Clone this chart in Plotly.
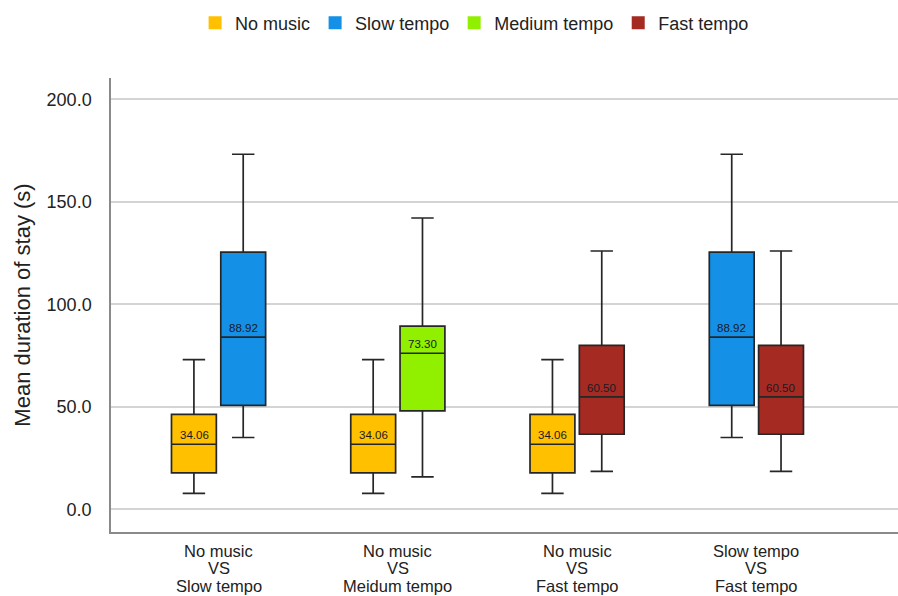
import plotly.graph_objects as go

# ---- data ----
group_keys = ["G1", "G2", "G3", "G4"]
group_label_lines = [
    ["No music", "VS", "Slow tempo"],
    ["No music", "VS", "Meidum tempo"],
    ["No music", "VS", "Fast tempo"],
    ["Slow tempo", "VS", "Fast tempo"],
]

series_names = ["No music", "Slow tempo", "Medium tempo", "Fast tempo"]
series_colors = ["#FFC000", "#1490E6", "#90F000", "#A52A22"]

# stats per condition: lower whisker, Q1, median, Q3, upper whisker, mean label
stats = {
    "No music":     dict(lo=7.7,  q1=17.7, med=31.7, q3=46.3,  hi=73.0,  mean="34.06"),
    "Slow tempo":   dict(lo=35.0, q1=50.7, med=84.0, q3=125.4, hi=173.2, mean="88.92"),
    "Medium tempo": dict(lo=15.8, q1=48.0, med=76.1, q3=89.3,  hi=142.1, mean="73.30"),
    "Fast tempo":   dict(lo=18.5, q1=36.6, med=54.8, q3=80.0,  hi=126.0, mean="60.50"),
}

# which condition sits in which group and slot (L = left, R = right)
placements = [
    ("No music", "G1", "L"), ("Slow tempo", "G1", "R"),
    ("No music", "G2", "L"), ("Medium tempo", "G2", "R"),
    ("No music", "G3", "L"), ("Fast tempo", "G3", "R"),
    ("Slow tempo", "G4", "L"), ("Fast tempo", "G4", "R"),
]

y_ticks = [0, 50, 100, 150, 200]

FONT = "Liberation Sans, Arial, sans-serif"
TEXT = "#222222"
color_of = dict(zip(series_names, series_colors))

fig = go.Figure()

# one box trace per (condition, slot)
traces = {}
for name, g, slot in placements:
    traces.setdefault((name, slot), []).append(g)

for (name, slot), gs in traces.items():
    s = stats[name]
    n = len(gs)
    fig.add_trace(go.Box(
        x=gs,
        q1=[s["q1"]] * n, median=[s["med"]] * n, q3=[s["q3"]] * n,
        lowerfence=[s["lo"]] * n, upperfence=[s["hi"]] * n,
        boxpoints=False,
        offsetgroup=slot,
        fillcolor=color_of[name],
        line=dict(color="#262626", width=1.7),
        whiskerwidth=0.5,
        showlegend=False,
        hoverinfo="skip",
    ))

# legend entries as square markers
for name in series_names:
    fig.add_trace(go.Scatter(
        x=[None], y=[None], mode="markers", name=name,
        marker=dict(symbol="square", size=13, color=color_of[name]),
    ))

annotations = []
# mean labels above the median lines
for name, g, slot in placements:
    s = stats[name]
    annotations.append(dict(
        x=g, y=s["med"], xref="x", yref="y", text=s["mean"], showarrow=False,
        xshift=-24.5 if slot == "L" else 24.5, yshift=9,
        font=dict(family=FONT, size=11.5, color="#1a1a26"),
    ))

# category labels (three tightly spaced lines under each group)
line_offsets = [-18.5, -36, -53.5]
for g, lines in zip(group_keys, group_label_lines):
    for txt, off in zip(lines, line_offsets):
        annotations.append(dict(
            x=g, y=0, xref="x", yref="paper", text=txt, showarrow=False,
            yanchor="middle", yshift=off,
            font=dict(family=FONT, size=16.5, color=TEXT),
        ))

fig.update_layout(
    width=898, height=596,
    margin=dict(l=111, r=0, t=78, b=64),
    paper_bgcolor="white", plot_bgcolor="white",
    font=dict(family=FONT, color=TEXT),
    boxmode="group", boxgap=0.45, boxgroupgap=0.09,
    legend=dict(orientation="h", x=0.462, xanchor="center", y=1.121, yanchor="middle",
                font=dict(size=18, color=TEXT), itemwidth=30,
                tracegroupgap=0, itemclick=False),
    annotations=annotations,
)

fig.update_xaxes(
    categoryorder="array", categoryarray=group_keys,
    tickmode="array", tickvals=group_keys, showticklabels=False,
    range=[-0.6, 3.79], automargin=False,
    showline=True, linecolor="#8a8a8a", linewidth=2,
    showgrid=False, ticks="",
)
fig.update_yaxes(
    range=[-11.1, 210.4], automargin=False,
    tickmode="array", tickvals=y_ticks, ticktext=[f"{v:.1f}" for v in y_ticks],
    tickfont=dict(size=18, color=TEXT),
    showline=True, linecolor="#8a8a8a", linewidth=1.5,
    showgrid=True, gridcolor="#d4d4d4", gridwidth=1.5,
    zeroline=False, ticks="", ticklabelstandoff=14,
    title=dict(text="Mean duration of stay (s)", font=dict(size=22, color=TEXT), standoff=10),
)

fig.write_html("out.html")
